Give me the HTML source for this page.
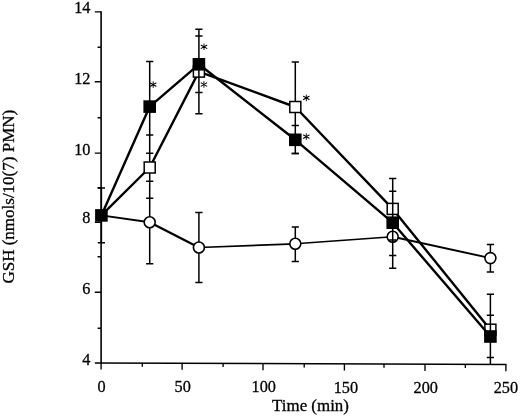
<!DOCTYPE html>
<html><head><meta charset="utf-8"><title>GSH vs Time</title>
<style>html,body{margin:0;padding:0;background:#fff;font-family:"Liberation Serif",serif}svg{display:block;filter:grayscale(1)}</style>
</head><body>
<svg width="520" height="416" viewBox="0 0 520 416">
<rect width="520" height="416" fill="#fff"/>
<g stroke="#000" fill="none">
<path d="M101.1 11.2V363.6" stroke-width="1.6"/><path d="M94.8 362.9L506.5 364.6" stroke-width="1.5"/>
<path d="M97.6 328.2H101M94.8 292.2H101M97.6 256.8H101M94.8 222.3H101M97.6 187.8H101M94.8 153.1H101M97.6 117.7H101M94.8 81.7H101M97.6 47.3H101M94.8 11.9H101" stroke-width="1.4"/>
<path d="M101.1 362.9V369.5M142.3 363.1V366.7M182.1 363.2V369.8M223.1 363.4V367.0M263.0 363.6V370.2M304.2 363.8V367.4M344.4 363.9V370.5M384.0 364.1V367.7M425.0 364.3V370.9M465.3 364.4V368.0M505.9 364.6V371.2" stroke-width="1.35"/>
</g>
<path d="M101.4 215.4L149.7 222.2" stroke="#000" stroke-width="1.9" stroke-linecap="round"/>
<path d="M149.7 222.2L198.9 247.5" stroke="#000" stroke-width="2.3" stroke-linecap="round"/>
<path d="M198.9 247.5L295.3 243.8" stroke="#000" stroke-width="1.7" stroke-linecap="round"/>
<path d="M295.3 243.8L392.7 236.7" stroke="#000" stroke-width="1.6" stroke-linecap="round"/>
<path d="M392.7 236.7L490.4 258.1" stroke="#000" stroke-width="1.9" stroke-linecap="round"/>
<path d="M149.7 198.3V263.8M146.1 181.2H153.3M146.1 263.8H153.3M198.9 212.5V282.5M195.3 212.5H202.5M195.3 282.5H202.5M295.3 227V261.6M291.7 227H298.9M291.7 261.6H298.9M392.7 255.4V268.2M389.1 205.6H396.3M389.1 268.2H396.3M490.4 244.5V271.9M486.8 244.5H494.0M486.8 271.9H494.0" stroke="#000" fill="none" stroke-width="1.5"/>
<g stroke="#000" stroke-width="1.6" fill="#fff">
<circle cx="149.7" cy="222.2" r="5.5"/>
<circle cx="198.9" cy="247.5" r="5.5"/>
<circle cx="295.3" cy="243.8" r="5.5"/>
<circle cx="392.7" cy="236.7" r="5.5"/>
<circle cx="490.4" cy="258.1" r="5.5"/>
</g>
<polyline points="101.4,215.4 149.7,167.5 198.9,71.6 295.3,107.0 392.7,208.9 490.4,329.7" stroke="#000" fill="none" stroke-width="2.4" stroke-linejoin="round"/>
<path d="M149.7 153.2V198.3M146.1 135H153.3M146.1 198.3H153.3M198.9 29.2V36.0M198.9 92.6V113.7M195.3 29.2H202.5M195.3 113.7H202.5M295.3 62.1V125.6M291.7 62.1H298.9M291.7 153.4H298.9M392.7 178.6V191.3M389.1 178.6H396.3M389.1 240H396.3M490.4 294.3V315.3M490.4 357.6V364M486.8 294.3H494.0" stroke="#000" fill="none" stroke-width="1.5"/>
<g stroke="#000" stroke-width="1.5" fill="#fff">
<rect x="144.20" y="162.00" width="11.0" height="11.0"/>
<rect x="193.40" y="66.10" width="11.0" height="11.0"/>
<rect x="289.80" y="101.50" width="11.0" height="11.0"/>
<rect x="387.20" y="203.40" width="11.0" height="11.0"/>
<rect x="484.90" y="324.20" width="11.0" height="11.0"/>
</g>
<polyline points="101.4,215.4 149.7,106.6 198.9,64.3 295.3,139.8 392.7,222.7 490.4,336.5" stroke="#000" fill="none" stroke-width="2.4" stroke-linejoin="round"/>
<path d="M101.4 188V242.7M97.8 188H105.0M97.8 242.7H105.0M149.7 61.5V153.2M146.1 61.5H153.3M146.1 153.2H153.3M198.9 36.0V92.6M195.3 36.0H202.5M195.3 92.6H202.5M295.3 125.6V153.4M291.7 125.6H298.9M291.7 153.4H298.9M392.7 191.3V255.4M389.1 191.3H396.3M389.1 255.4H396.3M490.4 315.3V357.6M486.8 315.3H494.0M486.8 357.6H494.0" stroke="#000" fill="none" stroke-width="1.5"/>
<g fill="#000">
<rect x="95.10" y="209.10" width="12.6" height="12.6"/>
<rect x="143.40" y="100.30" width="12.6" height="12.6"/>
<rect x="192.60" y="58.00" width="12.6" height="12.6"/>
<rect x="289.00" y="133.50" width="12.6" height="12.6"/>
<rect x="386.40" y="216.40" width="12.6" height="12.6"/>
<rect x="484.10" y="330.20" width="12.6" height="12.6"/>
</g>
<g stroke="#000" fill="none" stroke-linecap="round">
<path d="M153.2 81.69999999999999V87.5" stroke-width="0.9"/>
<path d="M150.39999999999998 83.0L156.0 86.2M150.39999999999998 86.2L156.0 83.0" stroke-width="1.05"/>
<path d="M204.0 43.9V49.699999999999996" stroke-width="0.9"/>
<path d="M201.2 45.199999999999996L206.8 48.4M201.2 48.4L206.8 45.2" stroke-width="1.05"/>
<path d="M203.9 81.6V87.4" stroke-width="0.9"/>
<path d="M201.1 82.9L206.7 86.1M201.1 86.1L206.7 82.9" stroke-width="1.05"/>
<path d="M306.3 95.0V100.80000000000001" stroke-width="0.9"/>
<path d="M303.5 96.30000000000001L309.1 99.5M303.5 99.5L309.1 96.3" stroke-width="1.05"/>
<path d="M306.3 133.7V139.5" stroke-width="0.9"/>
<path d="M303.5 135.0L309.1 138.2M303.5 138.2L309.1 135.0" stroke-width="1.05"/>
</g>
<g font-family="'Liberation Serif', serif" font-size="17.3" fill="#000" stroke="#000" stroke-width="0.3">
<text transform="translate(90.4 364.9) scale(0.94 1)" text-anchor="end">4</text>
<text transform="translate(90.4 294.0) scale(0.94 1)" text-anchor="end">6</text>
<text transform="translate(90.4 223.4) scale(0.94 1)" text-anchor="end">8</text>
<text transform="translate(90.4 154.9) scale(0.94 1)" text-anchor="end">10</text>
<text transform="translate(90.4 84.0) scale(0.94 1)" text-anchor="end">12</text>
<text transform="translate(90.4 13.2) scale(0.94 1)" text-anchor="end">14</text>
<text transform="translate(101.65 391.5) scale(0.94 1)" text-anchor="middle">0</text>
<text transform="translate(182.65 392.1) scale(0.94 1)" text-anchor="middle">50</text>
<text transform="translate(263.70 392.4) scale(0.94 1)" text-anchor="middle">100</text>
<text transform="translate(345.90 392.9) scale(0.94 1)" text-anchor="middle">150</text>
<text transform="translate(425.75 392.8) scale(0.94 1)" text-anchor="middle">200</text>
<text transform="translate(505.90 393.2) scale(0.94 1)" text-anchor="middle">250</text>
<text x="310.5" y="411.3" text-anchor="middle" font-size="16.9">Time (min)</text>
<text transform="translate(14.4 196.7) rotate(-90)" text-anchor="middle" font-size="17">GSH (nmols/10(7) PMN)</text>
</g>
</svg>
</body></html>
